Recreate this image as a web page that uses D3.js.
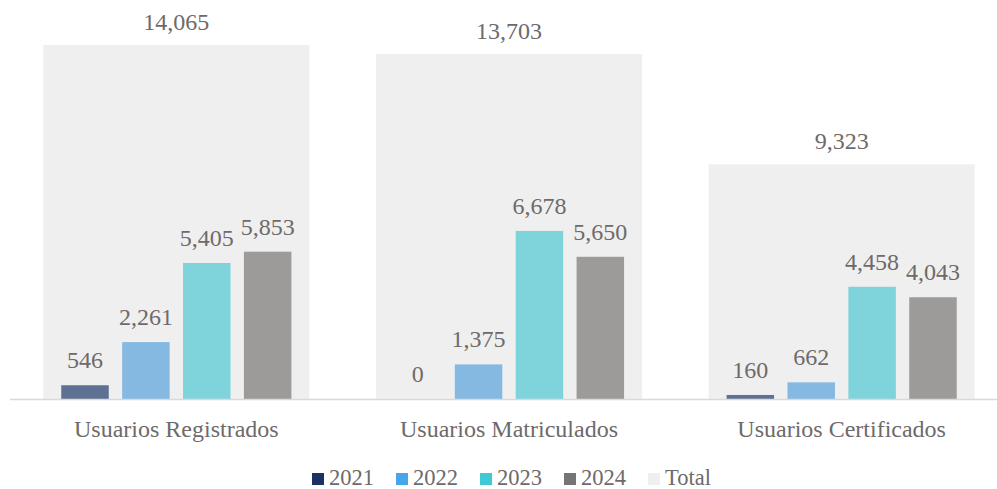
<!DOCTYPE html>
<html>
<head>
<meta charset="utf-8">
<script src="https://cdn.jsdelivr.net/npm/d3@7"></script>
<style>
body { margin: 0; background: #fff; }
svg text { font-family: 'Liberation Serif', 'Times New Roman', serif; fill: #6e6a6a; }
</style>
</head>
<body>
<svg id="chart" width="997" height="489"></svg>
<script>
var categories = ["Usuarios Registrados", "Usuarios Matriculados", "Usuarios Certificados"];
var years = ["2021", "2022", "2023", "2024"];
var values2021 = [546, 0, 160];
var values2022 = [2261, 1375, 662];
var values2023 = [5405, 6678, 4458];
var values2024 = [5853, 5650, 4043];
var totals = [14065, 13703, 9323];

var barColors = ["#5f7192", "#85b9e2", "#7fd3db", "#9c9b99"];
var legendColors = ["#1b3262", "#47a6e9", "#3fc9d5", "#777474", "#efefef"];

var svg = d3.select("#chart");
var baseY = 399;

var x = d3.scaleBand().domain(categories).range([10, 1008]).paddingInner(0.2).paddingOuter(0.1);
var y = d3.scaleLinear().domain([0, 14065]).range([baseY, 45]);
var xYear = d3.scaleBand().domain(years).range([18, x.bandwidth() - 18]).paddingInner(0.22);

var series = [values2021, values2022, values2023, values2024];

var groups = svg.selectAll("g.cat")
    .data(categories)
    .enter().append("g")
    .attr("class", "cat")
    .attr("transform", function(d) { return "translate(" + x(d) + ",0)"; });

// total background bars
groups.append("rect")
    .attr("x", 0)
    .attr("width", x.bandwidth())
    .attr("y", function(d, i) { return y(totals[i]); })
    .attr("height", function(d, i) { return baseY - y(totals[i]); })
    .style("fill", "#efefef");

groups.append("text")
    .attr("x", x.bandwidth() / 2)
    .attr("y", function(d, i) { return y(totals[i]) - 15; })
    .attr("text-anchor", "middle")
    .style("font-size", "24px")
    .text(function(d, i) { return d3.format(",")(totals[i]); });

years.forEach(function(yr, k) {
    groups.append("rect")
        .attr("x", xYear(yr))
        .attr("width", xYear.bandwidth())
        .attr("y", function(d, i) { return y(series[k][i]); })
        .attr("height", function(d, i) { return baseY - y(series[k][i]); })
        .style("fill", barColors[k]);

    groups.append("text")
        .attr("x", xYear(yr) + xYear.bandwidth() / 2)
        .attr("y", function(d, i) { return y(series[k][i]) - 17; })
        .attr("text-anchor", "middle")
        .style("font-size", "24px")
        .text(function(d, i) { return d3.format(",")(series[k][i]); });
});

// baseline
svg.append("line")
    .attr("x1", 10).attr("x2", 997)
    .attr("y1", baseY + 0.5).attr("y2", baseY + 0.5)
    .style("stroke", "#d9d9d9")
    .style("stroke-width", 1.5);

svg.selectAll("text.cat-label")
    .data(categories)
    .enter().append("text")
    .attr("class", "cat-label")
    .attr("x", function(d) { return x(d) + x.bandwidth() / 2; })
    .attr("y", 437)
    .attr("text-anchor", "middle")
    .style("font-size", "24px")
    .text(function(d) { return d; });

// legend
var legendItems = years.concat(["Total"]);
var legendX = [312, 396, 480, 564, 648];
var legend = svg.selectAll("g.legend")
    .data(legendItems)
    .enter().append("g")
    .attr("class", "legend")
    .attr("transform", function(d, i) { return "translate(" + legendX[i] + ",473)"; });

legend.append("rect")
    .attr("width", 12).attr("height", 12)
    .style("fill", function(d, i) { return legendColors[i]; });

legend.append("text")
    .attr("x", 17)
    .attr("y", 12)
    .style("font-size", "22.5px")
    .text(function(d) { return d; });
</script>
</body>
</html>
